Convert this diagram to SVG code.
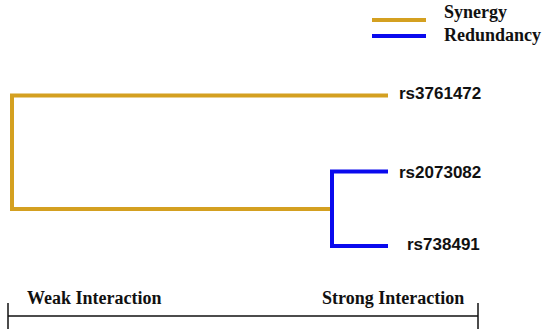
<svg xmlns="http://www.w3.org/2000/svg" width="550" height="335" viewBox="0 0 550 335">
<style>
.syn{stroke:#D4A020;stroke-width:4;fill:none}
.red{stroke:#0A0AEE;stroke-width:4;fill:none}
.lbl{font-family:"Liberation Sans",Arial,sans-serif;font-weight:bold;font-size:17px;fill:#111}
.ser{font-family:"Liberation Serif","Times New Roman",serif;font-weight:bold;font-size:18px;fill:#111}
.axis{stroke:#111;stroke-width:1.5;fill:none}
</style>
<rect width="550" height="335" fill="#fff"/>
<g id="legend">
<line class="syn" x1="372" y1="20" x2="426" y2="20"/>
<line class="red" x1="372" y1="36" x2="426" y2="36"/>
<text class="ser" x="444" y="18">Synergy</text>
<text class="ser" x="444" y="41">Redundancy</text>
</g>
<g id="connectors">
<path class="syn" d="M388,95.5 H12 V209 H332"/>
<path class="red" d="M388,171.5 H332 V246 H388"/>
</g>
<g id="rs3761472"><text class="lbl" x="399" y="99">rs3761472</text></g>
<g id="rs2073082"><text class="lbl" x="399" y="178">rs2073082</text></g>
<g id="rs738491"><text class="lbl" x="407" y="250">rs738491</text></g>
<g id="axis">
<line class="axis" x1="8" y1="316" x2="478" y2="316"/>
<line class="axis" x1="8" y1="303" x2="8" y2="329"/>
<line class="axis" x1="478" y1="303" x2="478" y2="329"/>
<text class="ser" x="27" y="304">Weak Interaction</text>
<text class="ser" x="322" y="304">Strong Interaction</text>
</g>
</svg>
